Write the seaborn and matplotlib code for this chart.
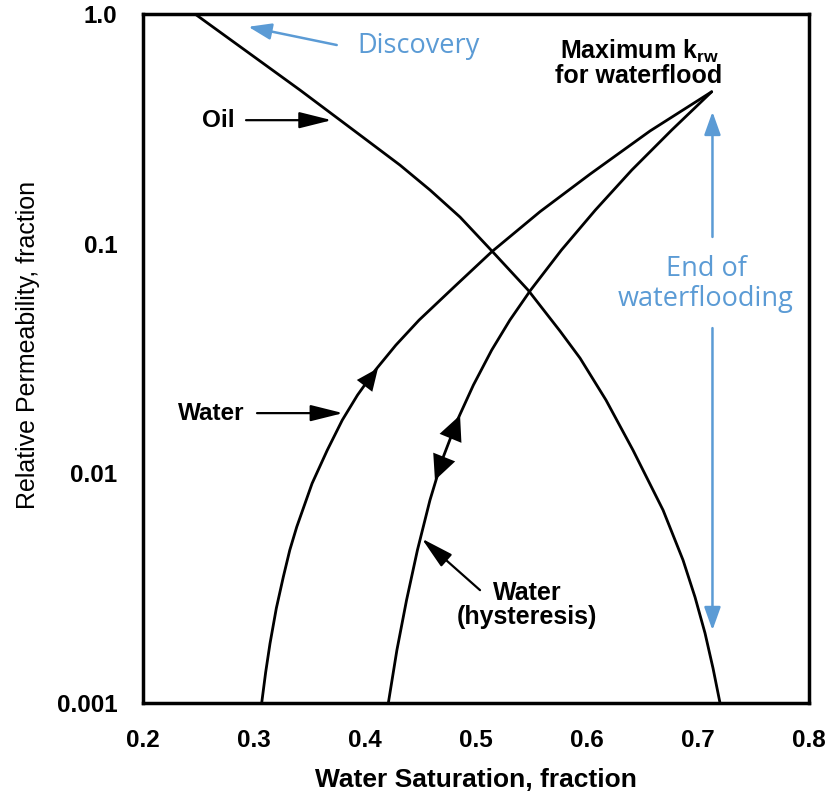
import numpy as np
import pandas as pd
import matplotlib
matplotlib.use("Agg")
import matplotlib.pyplot as plt
import seaborn as sns

# Relative permeability curves (water saturation, fraction)
sw_oil = [0.2469, 0.2964, 0.3414, 0.3955, 0.4315, 0.4586, 0.4856, 0.5144,
          0.5469, 0.5757, 0.5937, 0.6171, 0.6414, 0.6685, 0.6865, 0.6973,
          0.7063, 0.7135, 0.7198]
kr_oil = [1.0, 0.6710, 0.4667, 0.2972, 0.2199, 0.1712, 0.1306, 0.09285,
          0.06281, 0.04162, 0.03175, 0.02084, 0.01262, 0.006915, 0.004188,
          0.002889, 0.002014, 0.001417, 0.001]

sw_water = [0.3069, 0.3105, 0.3144, 0.3201, 0.3264, 0.3322, 0.3385, 0.3523,
            0.3660, 0.3795, 0.3932, 0.4093, 0.4278, 0.4487, 0.4811, 0.5141,
            0.5577, 0.6027, 0.6568, 0.7123]
kr_water = [0.001, 0.001362, 0.001816, 0.002587, 0.003542, 0.004630,
            0.005848, 0.009036, 0.01262, 0.01705, 0.02191, 0.02815, 0.03618,
            0.04649, 0.06537, 0.09219, 0.1379, 0.2008, 0.3097, 0.4587]

sw_hyst = [0.4210, 0.4287, 0.4374, 0.4472, 0.4585, 0.4694, 0.4832, 0.4976,
           0.5141, 0.5305, 0.5492, 0.5769, 0.6075, 0.6403, 0.6763, 0.7123]
kr_hyst = [0.001, 0.001698, 0.002804, 0.004630, 0.007644, 0.01142, 0.01705,
           0.02422, 0.03440, 0.04649, 0.06281, 0.09378, 0.1401, 0.2092,
           0.3125, 0.4587]

x_ticks = [0.2, 0.3, 0.4, 0.5, 0.6, 0.7, 0.8]
x_tick_labels = ["0.2", "0.3", "0.4", "0.5", "0.6", "0.7", "0.8"]
y_ticks = [0.001, 0.01, 0.1, 1.0]
y_tick_labels = ["0.001", "0.01", "0.1", "1.0"]

sns.set_theme(style="white")
plt.rcParams["font.family"] = ["Liberation Sans", "DejaVu Sans"]
plt.rcParams["mathtext.fontset"] = "custom"
plt.rcParams["mathtext.rm"] = "Liberation Sans"
plt.rcParams["mathtext.bf"] = "Liberation Sans:bold"

BLUE = "#5b9bd5"

fig = plt.figure(figsize=(8.32, 7.93), dpi=100)
fig.patch.set_facecolor("white")
ax = fig.add_axes([0.1719, 0.1135, 0.8005, 0.8688])
ax.set_facecolor("white")

curves = [
    pd.DataFrame({"sw": sw_oil, "kr": kr_oil}),
    pd.DataFrame({"sw": sw_water, "kr": kr_water}),
    pd.DataFrame({"sw": sw_hyst, "kr": kr_hyst}),
]
for df in curves:
    sns.lineplot(data=df, x="sw", y="kr", sort=False, estimator=None,
                 color="black", linewidth=2.0, ax=ax)
for ln in ax.lines:
    ln.set_solid_joinstyle("round")

ax.set_yscale("log")
ax.set_xlim(0.2, 0.8)
ax.set_ylim(0.001, 1.0)
ax.set_xticks(x_ticks)
ax.set_xticklabels(x_tick_labels)
ax.set_yticks(y_ticks)
ax.set_yticklabels(y_tick_labels)
ax.yaxis.set_minor_locator(matplotlib.ticker.NullLocator())
ax.tick_params(axis="both", which="major", direction="inout", length=19,
               width=1.1, color="black", pad=9, labelsize=17.5,
               labelcolor="black")
for lab in ax.get_xticklabels() + ax.get_yticklabels():
    lab.set_fontweight("bold")

for side in ["left", "right", "top", "bottom"]:
    ax.spines[side].set_visible(True)
    ax.spines[side].set_color("black")
    ax.spines[side].set_linewidth(2.5)

ax.set_xlabel("Water Saturation, fraction", fontsize=19, fontweight="bold",
              labelpad=12, color="black")
ax.set_ylabel("Relative Permeability, fraction", fontsize=18,
              color="black")
ax.yaxis.set_label_coords(-0.155, 0.52)

# Direction heads sitting on the curves
head_kw = dict(arrowstyle="-|>,head_length=1.6,head_width=0.7",
               mutation_scale=10, color="black", lw=0,
               shrinkA=0, shrinkB=0)
ax.annotate("", xy=(0.4117, 0.0287), xytext=(0.3932, 0.0219),
            arrowprops=head_kw)
hyst_head = dict(head_kw, arrowstyle="-|>,head_length=1.8,head_width=0.85")
ax.annotate("", xy=(0.4856, 0.01791), xytext=(0.4770, 0.01420),
            arrowprops=hyst_head)
ax.annotate("", xy=(0.463, 0.00933), xytext=(0.4720, 0.01200),
            arrowprops=hyst_head)

# Curve labels with pointer arrows
label_kw = dict(arrowstyle="-|>,head_length=2.0,head_width=0.5",
                mutation_scale=10, color="black", lw=1.6,
                shrinkA=0, shrinkB=0)
ax.text(0.2676, 0.345, "Oil", fontsize=17.5, fontweight="bold",
        ha="center", va="center", color="black")
ax.annotate("", xy=(0.370, 0.345), xytext=(0.2928, 0.345),
            arrowprops=label_kw)

ax.text(0.2617, 0.01829, "Water", fontsize=17.5, fontweight="bold",
        ha="center", va="center", color="black")
ax.annotate("", xy=(0.3802, 0.01829), xytext=(0.3027, 0.01829),
            arrowprops=label_kw)

ax.text(0.546, 0.002667, "Water\n(hysteresis)", fontsize=18,
        fontweight="bold", ha="center", va="center", color="black",
        linespacing=1.0)
ax.annotate("", xy=(0.4511, 0.0052), xytext=(0.5036, 0.0031),
            arrowprops=label_kw)

ax.text(0.6468, 0.6116, "Maximum k$_{\\mathbf{rw}}$\nfor waterflood",
        fontsize=18, fontweight="bold", ha="center", va="center",
        color="black", linespacing=0.95)

# Blue notes
blue_kw = dict(arrowstyle="-|>,head_length=1.4,head_width=0.5",
               mutation_scale=10, color=BLUE, lw=1.8,
               shrinkA=0, shrinkB=0)
ax.text(0.3928, 0.7254, "Discovery", fontsize=19.5, color=BLUE,
        family="Open Sans", ha="left", va="center")
ax.annotate("", xy=(0.2949, 0.880), xytext=(0.3745, 0.733),
            arrowprops=blue_kw)

ax.text(0.7072, 0.0667, "End of\nwaterflooding", fontsize=19.5,
        color=BLUE, family="Open Sans", ha="center", va="center",
        linespacing=1.12)
ax.annotate("", xy=(0.713, 0.3754), xytext=(0.713, 0.107),
            arrowprops=blue_kw)
ax.annotate("", xy=(0.713, 0.002075), xytext=(0.713, 0.0429),
            arrowprops=blue_kw)

fig.savefig("out.png", dpi=100, facecolor="white")
